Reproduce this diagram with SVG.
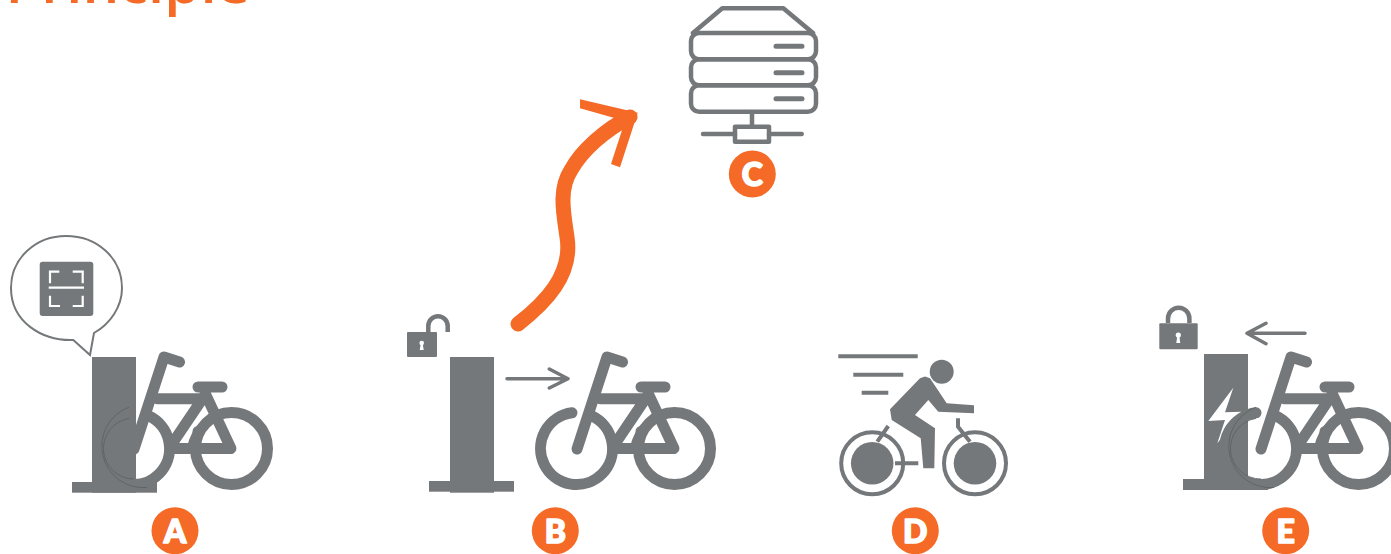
<svg xmlns="http://www.w3.org/2000/svg" width="1391" height="554" viewBox="0 0 1391 554">
<style>
.g{fill:#75787a}
.l{fill:none;stroke:#75787a;stroke-linecap:round;stroke-linejoin:round}
.w{fill:none;stroke:#fff;stroke-width:2.2}
.b{fill:#f46a26}
.t{fill:#fff;stroke:#fff;stroke-width:1.6;stroke-linejoin:round;font:900 32px Lato,"Liberation Sans",sans-serif;text-anchor:middle}
</style>
<defs>
<g id="bike">
<g class="l" stroke-width="11">
<path d="M572,412.8A36,36 0 1 0 592,416"/>
<circle cx="674.5" cy="448.5" r="36"/>
<path d="M577,449L607,357L622.500,362"/>
<path d="M600,398.700H646M648,393L674,448.500H617M646,398L617,441M641,387H665M641,431.500C641,437 636,440 636,448.500"/>
</g>
</g>
<path id="edge" fill="none" stroke="#5c5f61" stroke-width=".8" d="M572,407.200A41.500,41.500 0 0 0 590,487.500M572,418.400A30.500,30.500 0 0 0 577,479"/>
</defs>
<text x="250" y="3" text-anchor="end" font-family="Open Sans,sans-serif" font-weight="600" font-size="58" fill="#f46a26">Principle</text>
<g id="connectors">
<path fill="none" stroke="#f46a26" stroke-width="15" stroke-linecap="round" d="M518,324C545,303 573,275 567,237C564,215 558,190 571,170C582,150 605,130 630,117"/>
<polygon class="b" points="580,99.300 637.700,112.700 620,167.300 611,164 625,121 580,108.300"/>
<path class="l" stroke-width="3.500" d="M507,378.700H568M549.300,369L568,378.700L549.300,388"/>
<path class="l" stroke-width="3.500" d="M1305,333.300H1247M1266,323.300L1247,333.300L1266,343.700"/>
</g>
<g id="node-a">
<path fill="#fff" stroke="#75787a" stroke-width="2" d="M73.300,340C42,341 11,322 11,288C11,258 36,236 66,236C97,236 122,258 122,288C122,307 110,324 94,333L90,355Z"/>
<rect class="g" x="39.700" y="261.700" width="53.600" height="54.300" rx="3"/>
<path class="w" d="M50,283.300V271.700H59.300M72.700,271.700H82.700V283.300M48.700,287.700H84M50,295.700V306H60M72.700,306H82.700V295.700"/>
<rect class="g" x="92" y="357" width="44" height="135.700"/>
<rect class="g" x="72" y="482" width="85" height="10.700"/>
<use href="#bike" transform="translate(-443,0)"/>
<use href="#edge" transform="translate(-443,0)"/>
<circle class="b" cx="175" cy="530.700" r="23.500"/>
<text class="t" x="175" y="542.500">A</text>
</g>
<g id="node-b">
<rect class="g" x="407" y="332" width="30" height="25" rx="1"/>
<path class="l" stroke-width="4.500" stroke-linecap="butt" d="M428.300,332V326A9.700,9.700 0 0 1 447.700,326V332" style="stroke-linecap:butt"/>
<circle cx="421.700" cy="343" r="2.300" fill="#fff"/>
<path fill="#fff" d="M420.700,344H422.700L423.700,350H419.700Z"/>
<rect class="g" x="450" y="357" width="44" height="135.700"/>
<rect class="g" x="429" y="481" width="85" height="10.700"/>
<use href="#bike"/>
<circle class="b" cx="555.300" cy="530.700" r="23.500"/>
<text class="t" x="555.300" y="542.500">B</text>
</g>
<g id="node-c">
<g class="l" stroke-width="4.500">
<path d="M693,33L722.300,8.300H783.300L813,33"/>
<rect x="691" y="33" width="125" height="26.300" rx="8"/>
<rect x="691" y="59.300" width="125" height="26" rx="8"/>
<rect x="691" y="85.300" width="125" height="26.400" rx="8"/>
<path stroke-width="5" d="M776,46.300H802M776,72.700H802M776,98.700H802"/>
<path d="M752,112V126"/>
<rect x="735" y="126.700" width="34" height="15"/>
<path d="M703,134H735M769,134H801.700"/>
</g>
<circle class="b" cx="752.300" cy="174" r="23.500"/>
<text class="t" x="752.300" y="185.800">C</text>
</g>
<g id="node-d">
<g class="l" stroke-width="4" style="stroke-linecap:butt">
<path d="M838.300,356.300H917.700M853.300,374.700H903.300M861.700,392.700H888.300"/>
<circle cx="872.200" cy="463.300" r="31"/>
<circle cx="975" cy="463.300" r="31"/>
<path d="M888.300,426L877.300,441.700M895,463.300H918.300M958,418.300V426.700L970,441.700"/>
</g>
<circle class="g" cx="941.700" cy="371.700" r="12"/>
<circle class="g" cx="872.200" cy="463.300" r="21.300"/>
<circle class="g" cx="975" cy="463.300" r="21.300"/>
<polygon class="g" points="920,378.300 925,376.500 930,378.300 946.700,403.300 974,405.300 974,413.300 938.300,411.700 928.300,400 915,415 935,428.300 934.300,468.300 923.300,468.300 920.700,438.300 891.700,420 890,409.300"/>
<circle class="b" cx="915.300" cy="530.700" r="23.500"/>
<text class="t" x="915.300" y="542.500">D</text>
</g>
<g id="node-e">
<rect class="g" x="1159.300" y="323.300" width="38.400" height="26" rx="1"/>
<path class="l" stroke-width="4.500" d="M1168,323V318.500A10.700,10.700 0 0 1 1189.400,318.500V323" style="stroke-linecap:butt"/>
<circle cx="1178.300" cy="335" r="2.600" fill="#fff"/>
<path fill="#fff" d="M1177.300,336H1179.300L1180.300,343H1176.300Z"/>
<rect class="g" x="1204" y="354" width="44" height="136"/>
<rect class="g" x="1183" y="479" width="85" height="11"/>
<polygon fill="#fff" points="1233.300,387.700 1208.300,421 1225,420 1217.300,443.300 1241.700,411.700 1225,412.300"/>
<use href="#bike" transform="translate(684,0)"/>
<use href="#edge" transform="translate(684,0)"/>
<circle class="b" cx="1285.700" cy="530.700" r="23.500"/>
<text class="t" x="1285.700" y="542.500">E</text>
</g>
</svg>
